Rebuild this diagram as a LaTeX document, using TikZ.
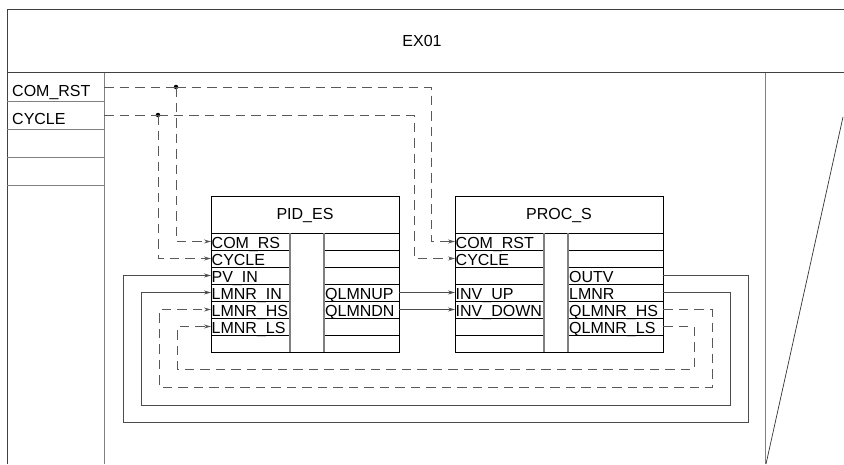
\documentclass[tikz,border=0pt]{standalone}
\usepackage{fontspec}
\setmainfont{Liberation Sans}
\usetikzlibrary{arrows.meta}
\tikzset{
  frameln/.style={draw=black!75, line width=0.9pt},
  grayln/.style={draw=black!50, line width=0.9pt},
  blockbox/.style={draw=black, line width=0.9pt, anchor=north west, inner sep=0pt, minimum width=#1, minimum height=156pt},
  rowln/.style={draw=black, line width=0.8pt},
  innerln/.style={draw=black!50, line width=1.1pt},
  lbl/.style={anchor=base west, inner sep=0pt, font=\fontsize{16}{18}\selectfont},
  ttl/.style={inner sep=0pt, font=\fontsize{16}{18}\selectfont},
  sig/.style={draw=black!70, line width=0.9pt},
  dsig/.style={draw=black!65, line width=0.9pt, dash pattern=on 9.5pt off 6pt},
  arr/.style={-{Stealth[length=7pt,width=4pt]}},
  junction/.style={circle, fill=black, inner sep=0pt, minimum size=4.5pt}
}
\begin{document}
\begin{tikzpicture}[x=1pt,y=-1pt]
\useasboundingbox (0,0) rectangle (844,464);
% outer frame
\draw[frameln] (844,9) -- (7,9) -- (7,464);
\draw[frameln] (7,72.5) -- (844,72.5);
\node[ttl] (title) at (422,40.5) {EX01};
% left interface column
\draw[grayln] (104,72.5) -- (104,464);
\foreach \y in {101,129,157,185} \draw[grayln] (7,\y) -- (104,\y);
\node[lbl] (incom) at (12,96.5) {COM\_RST};
\node[lbl] (incyc) at (12,124.5) {CYCLE};
\coordinate (srccom) at (104,87);
\coordinate (srccyc) at (104,115);
% right column
\draw[grayln] (765,72.5) -- (765,464);
\draw[draw=black!80, line width=0.7pt] (843,117) -- (766,464);

% PID_ES block
\node[blockbox=188pt] (pid) at (211,196) {};
\draw[rowln] (211,233) -- (399,233);
\foreach \y in {250,267,284,301,318,335} {
  \draw[rowln] (211,\y) -- (290,\y);
  \draw[rowln] (324,\y) -- (399,\y);
}
\draw[innerln] (290,233) -- (290,352);
\draw[innerln] (324,233) -- (324,352);
\node[ttl] (pidt) at (305,215) {PID\_ES};
\node[lbl] (pidl1) at (211.5,248.5) {COM\_RS};
\node[lbl] (pidl2) at (211.5,265.5) {CYCLE};
\node[lbl] (pidl3) at (211.5,282.5) {PV\_IN};
\node[lbl] (pidl4) at (211.5,299.5) {LMNR\_IN};
\node[lbl] (pidl5) at (211.5,316.5) {LMNR\_HS};
\node[lbl] (pidl6) at (211.5,333.5) {LMNR\_LS};
\node[lbl] (pidr4) at (325,299.5) {QLMNUP};
\node[lbl] (pidr5) at (325,316.5) {QLMNDN};

% PROC_S block
\node[blockbox=208pt] (proc) at (455,196) {};
\draw[rowln] (455,233) -- (663,233);
\foreach \y in {250,267,284,301,318,335} {
  \draw[rowln] (455,\y) -- (544,\y);
  \draw[rowln] (568,\y) -- (663,\y);
}
\draw[innerln] (544,233) -- (544,352);
\draw[innerln] (568,233) -- (568,352);
\node[ttl] (proct) at (559,215) {PROC\_S};
\node[lbl] (procl1) at (455.5,248.5) {COM\_RST};
\node[lbl] (procl2) at (455.5,265.5) {CYCLE};
\node[lbl] (procl4) at (455.5,299.5) {INV\_UP};
\node[lbl] (procl5) at (455.5,316.5) {INV\_DOWN};
\node[lbl] (procr3) at (569,282.5) {OUTV};
\node[lbl] (procr4) at (569,299.5) {LMNR};
\node[lbl] (procr5) at (569,316.5) {QLMNR\_HS};
\node[lbl] (procr6) at (569,333.5) {QLMNR\_LS};

% ports
\foreach \i/\y in {1/241.5,2/258.5,3/275.5,4/292.5,5/309.5,6/326.5}{
  \coordinate (pidin\i) at (211,\y);
  \coordinate (pidout\i) at (399,\y);
  \coordinate (procin\i) at (455,\y);
  \coordinate (procout\i) at (663,\y);
}

% junctions
\node[junction] (jcom) at (176,87) {};
\node[junction] (jcyc) at (158,115) {};

% COM_RST
\draw[dsig] (srccom) -- (jcom.center);
\draw[dsig,arr] (jcom.center) -- (431,87) -- (431,241.5) -- (procin1);
\draw[dsig,arr] (jcom.center) -- (176,241.5) -- (pidin1);
% CYCLE
\draw[dsig] (srccyc) -- (jcyc.center);
\draw[dsig,arr] (jcyc.center) -- (414,115) -- (414,258.5) -- (procin2);
\draw[dsig,arr] (jcyc.center) -- (158,258.5) -- (pidin2);

% forward
\draw[sig,arr] (pidout4) -- (procin4);
\draw[sig,arr] (pidout5) -- (procin5);

% feedback loops
\draw[sig,arr] (procout3) -- (748,275.5) -- (748,422.5) -- (123,422.5) -- (123,275.5) -- (pidin3);
\draw[sig,arr] (procout4) -- (730,292.5) -- (730,405) -- (141,405) -- (141,292.5) -- (pidin4);
\draw[dsig,arr] (procout5) -- (712,309.5) -- (712,387) -- (159,387) -- (159,309.5) -- (pidin5);
\draw[dsig,arr] (procout6) -- (694,326.5) -- (694,369) -- (177,369) -- (177,326.5) -- (pidin6);
\end{tikzpicture}
\end{document}
